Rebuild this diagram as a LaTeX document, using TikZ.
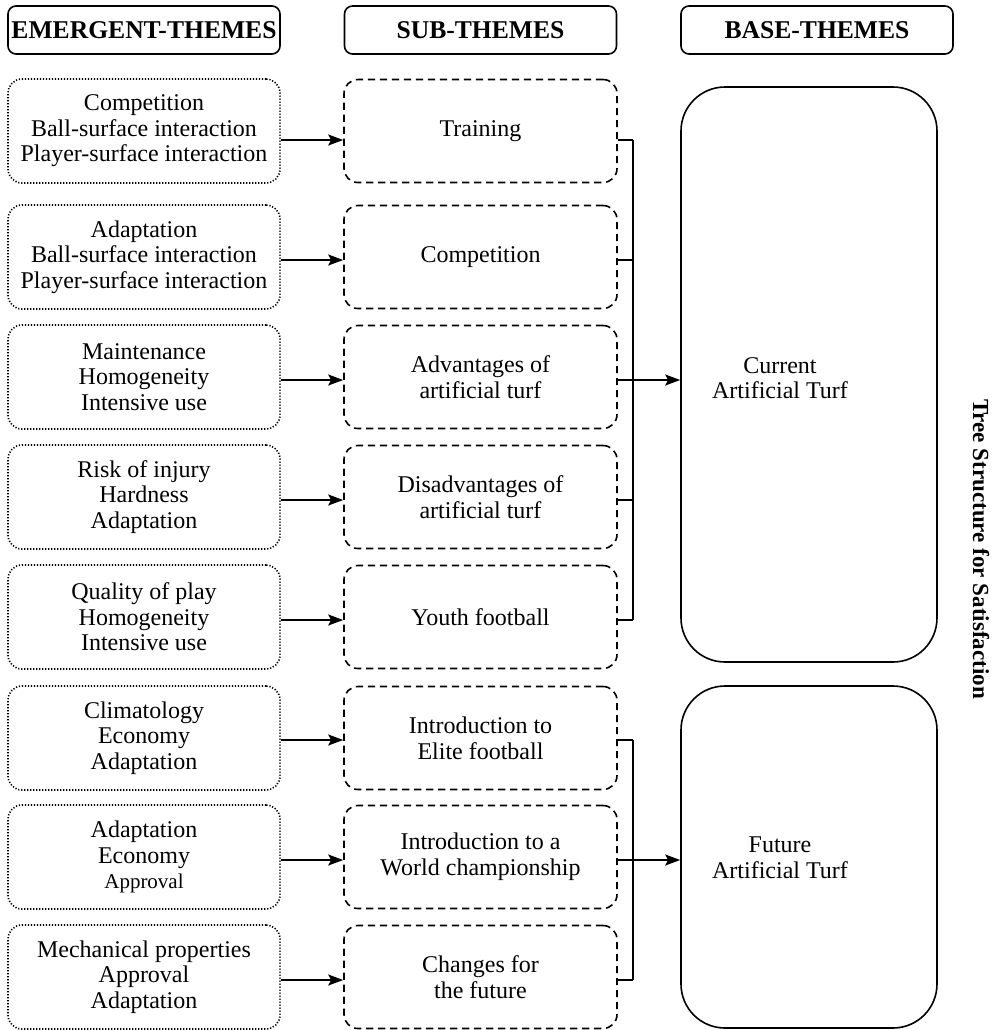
\documentclass[tikz,border=0pt]{standalone}
\usepackage{fontspec}
\setmainfont{Liberation Serif}
\usetikzlibrary{arrows.meta}

\begin{document}
\begin{tikzpicture}[
    x=0.5pt, y=-0.5pt,
    font=\fontsize{12}{12.8}\selectfont,
    every node/.style={align=center, inner sep=0pt},
    head/.style={draw, rounded corners=4pt, line width=0.8pt,
        font=\fontsize{12.8}{13}\selectfont\bfseries,
        minimum width=136pt, minimum height=24pt},
    emerg/.style={draw, rounded corners=7pt, line width=0.8pt,
        dash pattern=on 0.6pt off 0.9pt,
        minimum width=136pt, minimum height=52pt},
    sub/.style={draw, rounded corners=7pt, line width=0.8pt,
        dash pattern=on 3.6pt off 2.4pt,
        minimum width=136.5pt, minimum height=51.5pt},
    base/.style={draw, rounded corners=22pt, line width=0.8pt,
        minimum width=128pt},
    link/.style={line width=1pt, -{Stealth[length=7.5pt,width=5.5pt,inset=1.5pt]}},
    bus/.style={line width=0.7pt}
  ]
  \useasboundingbox (0,0) rectangle (996,1030);

  % headers
  \node[head] (hemerg) at (144,30) {EMERGENT-THEMES};
  \node[head] (hsub) at (480.5,30) {SUB-THEMES};
  \node[head] (hbase) at (817,30) {BASE-THEMES};

  % rows: emergent theme -> sub-theme
  \foreach \i/\c/\y/\etxt/\stxt in {
      1/131/140/{Competition\\Ball-surface interaction\\Player-surface interaction}/{Training},
      2/257/260/{Adaptation\\Ball-surface interaction\\Player-surface interaction}/{Competition},
      3/377/380/{Maintenance\\Homogeneity\\Intensive use}/{Advantages of\\artificial turf},
      4/497/500/{Risk of injury\\Hardness\\Adaptation}/{Disadvantages of\\artificial turf},
      5/617/620/{Quality of play\\Homogeneity\\Intensive use}/{Youth football},
      6/738/740/{Climatology\\Economy\\Adaptation}/{Introduction to\\Elite football},
      7/857/860/{Adaptation\\Economy\\{\fontsize{10.5}{12}\selectfont Approval}}/{Introduction to a\\World championship},
      8/977/980/{Mechanical properties\\Approval\\Adaptation}/{Changes for\\the future}}
    {
      \node[emerg] (e\i) at (144,\c) {\etxt};
      \node[sub] (s\i) at (480.5,\c) {\stxt};
      \draw[link] (e\i.east |- 0,\y) -- (s\i.west |- 0,\y);
    }

  % base themes
  \node[base, minimum height=287.5pt] (base1) at (809,374.5) {};
  \node (cur) at (780,378) {Current\\Artificial Turf};
  \node[base, minimum height=171pt] (base2) at (809,857) {};
  \node (fut) at (780,858) {Future\\Artificial Turf};

  % buses
  \coordinate (bus1) at (633,140);
  \coordinate (bus2) at (633,740);
  \foreach \i/\y in {1/140,2/260,3/380,4/500,5/620}
    \draw[bus] (s\i.east |- 0,\y) -- (bus1 |- 0,\y);
  \draw[bus] (bus1) -- (bus1 |- 0,620);
  \draw[link] (s3.east |- 0,380) -- (base1.west |- 0,380);
  \foreach \i/\y in {6/740,7/860,8/980}
    \draw[bus] (s\i.east |- 0,\y) -- (bus2 |- 0,\y);
  \draw[bus] (bus2) -- (bus2 |- 0,980);
  \draw[link] (s7.east |- 0,860) -- (base2.west |- 0,860);

  \node[rotate=-90, font=\fontsize{11.5}{13}\selectfont\bfseries] (title)
    at (981,549) {Tree Structure for Satisfaction};
\end{tikzpicture}
\end{document}
